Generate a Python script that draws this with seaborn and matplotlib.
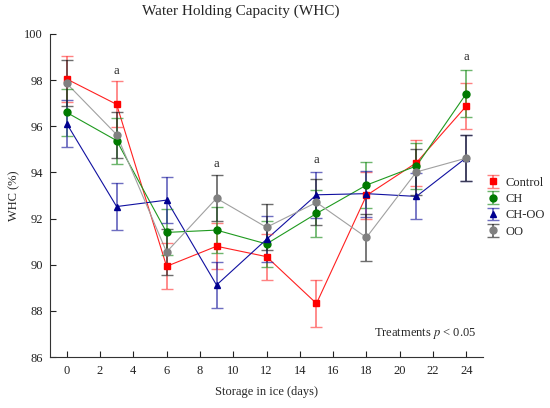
import numpy as np
import pandas as pd
import seaborn as sns
import matplotlib.pyplot as plt

# WATER HOLDING CAPACITY DATA
days = [0, 3, 6, 9, 12, 15, 18, 21, 24]
treatments = ["Control", "CH", "CH-OO", "OO"]
control = [98.05, 96.95, 89.93, 90.80, 90.35, 88.32, 93.00, 94.42, 96.88]
ch = [96.60, 95.38, 91.40, 91.50, 90.90, 92.22, 93.45, 94.28, 97.42]
ch_oo = [96.12, 92.52, 92.80, 89.12, 91.10, 93.03, 93.08, 92.96, 94.64]
oo = [97.86, 95.64, 90.55, 92.88, 91.62, 92.70, 91.18, 94.02, 94.62]
control_sd = [1.0, 1.0, 1.0, 1.0, 1.0, 1.0, 1.0, 1.0, 1.0]
ch_sd = [1.0, 1.0, 1.0, 1.0, 1.0, 1.0, 1.0, 1.0, 1.0]
ch_oo_sd = [1.0, 1.0, 1.0, 1.0, 1.0, 1.0, 1.0, 1.0, 1.0]
oo_sd = [1.0, 1.0, 1.0, 1.0, 1.0, 1.0, 1.0, 1.0, 1.0]
sig_days = [3, 9, 15, 24]
sig_y = [98.4, 94.35, 94.55, 99.0]

df = pd.DataFrame({
    "day": days * 4,
    "whc": control + ch + ch_oo + oo,
    "sd": control_sd + ch_sd + ch_oo_sd + oo_sd,
    "treatment": [t for t in treatments for _ in days],
})

sns.set_style("ticks")
plt.rcParams["font.family"] = ["Liberation Serif", "DejaVu Serif"]
plt.rcParams["mathtext.fontset"] = "stix"

line_col = {"Control": "#ff2020", "CH": "#1f9a1f", "CH-OO": "#1010a0", "OO": "#a0a0a0"}
mark_col = {"Control": "#ff0000", "CH": "#007a00", "CH-OO": "#000090", "OO": "#808080"}
err_col = {"Control": "#ff4040", "CH": "#209020", "CH-OO": "#2020a0", "OO": "#202020"}
markers = {"Control": "s", "CH": "o", "CH-OO": "^", "OO": "o"}

fig = plt.figure(figsize=(5.5, 4.08), dpi=100)
ax = fig.add_axes([0.0909, 0.125, 0.7873, 0.7917])

sns.lineplot(data=df, x="day", y="whc", hue="treatment", palette=line_col,
             hue_order=treatments, linewidth=0.8, legend=False, ax=ax)

handles = []
for t in treatments:
    sub = df[df.treatment == t]
    h = ax.errorbar(sub.day, sub.whc, yerr=sub.sd, fmt=markers[t], color=mark_col[t],
                    ecolor=err_col[t], elinewidth=1.3, capsize=4, capthick=1.0,
                    markersize=5, label=t)
    for part in h.lines[1] + h.lines[2]:
        part.set_alpha(0.65)
    handles.append(h)

for d, y in zip(sig_days, sig_y):
    ax.text(d, y, "a", ha="center", va="center", fontsize=9)

ax.text(24.6, 87.0, r"Treatments $p$ < 0.05", ha="right", va="center", fontsize=9)

ax.set_xlim(-1, 25)
ax.set_ylim(86, 100)
ax.set_xticks(range(0, 25, 2))
ax.set_yticks(range(86, 101, 2))
ax.tick_params(direction="in", length=4, width=0.8, labelsize=9, colors="#222222")
ax.tick_params(axis="x", pad=6)
ax.tick_params(axis="y", pad=5)
for s in ["left", "bottom"]:
    ax.spines[s].set_linewidth(0.8)
    ax.spines[s].set_color("#333333")
sns.despine(ax=ax)

ax.set_xlabel("Storage in ice (days)", fontsize=9, labelpad=6)
ax.set_ylabel("WHC (%)", fontsize=9, labelpad=3)

fig.text(0.438, 0.972, "Water Holding Capacity (WHC)", ha="center", va="center", fontsize=11)

fig.legend(handles=handles, labels=treatments, loc="center left",
           bbox_to_anchor=(0.866, 0.492), frameon=False, fontsize=9,
           handlelength=0.9, handletextpad=0.5, labelspacing=0.35)

fig.savefig("out.png", dpi=100)
